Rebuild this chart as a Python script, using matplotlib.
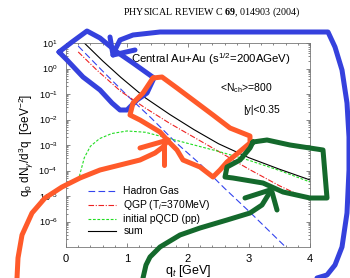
import numpy as np
import matplotlib
matplotlib.use('Agg')
import matplotlib.pyplot as plt
from matplotlib.lines import Line2D
from matplotlib.ticker import MultipleLocator, LogLocator, NullFormatter

plt.rcParams['font.family'] = ['Liberation Sans', 'DejaVu Sans']
plt.rcParams['mathtext.fontset'] = 'custom'
plt.rcParams['mathtext.rm'] = 'Liberation Sans'
plt.rcParams['mathtext.it'] = 'Liberation Sans:italic'
plt.rcParams['mathtext.bf'] = 'Liberation Serif:bold'

# curves (q_t in GeV, log10 of yield)
hadron_q = [0.2, 0.6, 1.0, 1.4, 1.8, 2.2, 2.6, 3.0, 3.6]
hadron_log = [0.88, -0.1, -1.05, -1.95, -2.9, -3.75, -4.7, -5.6, -7.0]

qgp_q = [0.2, 0.5, 0.9, 1.3, 1.7, 2.1, 2.5, 3.0, 3.5, 4.0]
qgp_log = [0.65, -0.05, -0.9, -1.55, -2.15, -2.7, -3.25, -3.95, -4.6, -5.16]

pqcd_q = [0.2, 0.3, 0.4, 0.55, 0.75, 1.0, 1.3, 1.7, 2.1, 2.5, 3.0, 3.5, 4.0]
pqcd_log = [-4.4, -3.5, -3.05, -2.75, -2.55, -2.45, -2.5, -2.75, -3.0, -3.25, -3.6, -4.0, -4.45]

sum_q = [0.3, 0.6, 0.9, 1.3, 1.7, 2.1, 2.5, 3.0, 3.5, 4.0]
sum_log = [1.0, 0.3, -0.35, -1.15, -1.8, -2.4, -2.95, -3.5, -3.95, -4.37]

labels = ['Hadron Gas', r'QGP (T$_i$=370MeV)', 'initial pQCD (pp)', 'sum']

# hand drawn marker strokes, in image pixels (x right, y down)
blue_box = [(59, 52), (72, 42), (87, 31), (100, 38), (117, 52), (133, 63), (147, 73), (154, 78),
            (147, 93), (137, 100), (127, 110), (120, 110), (112, 103), (100, 90), (83, 77),
            (67, 60), (59, 52)]
blue_arrow = [(113, 55), (115, 50), (120, 40), (133, 35), (160, 32), (233, 32), (328, 32),
              (335, 47), (342, 70), (347, 103), (349, 137), (349, 170), (347, 213), (342, 247),
              (335, 265), (327, 275), (317, 278)]
blue_barbs = [[(110, 37), (113, 55), (135, 50)]]
red_box = [(153, 78), (162, 77), (177, 88), (193, 100), (213, 115), (230, 128), (250, 136),
           (250, 143), (238, 153), (227, 162), (220, 170), (213, 177), (200, 167), (183, 160),
           (177, 150), (170, 143), (160, 132), (140, 120), (130, 115), (133, 103), (143, 93),
           (153, 78)]
red_arrow = [(17, 278), (18, 258), (22, 235), (32, 213), (45, 198), (62, 187), (80, 178),
             (100, 170), (120, 165), (140, 160), (155, 153), (163, 147), (168, 140)]
red_barbs = [[(140, 148), (168, 140)], [(164, 142), (164, 165)]]
green_box = [(253, 142), (267, 140), (290, 145), (323, 150), (327, 198), (310, 198),
             (283, 192), (263, 183), (233, 178), (225, 177), (227, 167), (240, 160),
             (250, 148), (253, 142)]
green_arrow = [(143, 278), (146, 265), (150, 257), (160, 247), (180, 235), (200, 228),
               (227, 220), (250, 213), (262, 205), (270, 192)]
green_barbs = [[(245, 198), (270, 190)], [(272, 192), (277, 210)]]

W, H = 350, 278
fig = plt.figure(figsize=(3.5, 2.78), dpi=100)
ax = fig.add_axes([66 / W, 1 - 247 / H, 244 / W, 204 / H])

ax.plot(hadron_q, 10 ** np.array(hadron_log), color='#3344ee', lw=0.8, ls=(0, (6, 3)), label=labels[0])
ax.plot(qgp_q, 10 ** np.array(qgp_log), color='#ee2222', lw=0.8, ls=(0, (5, 1.5, 1, 1.5)), label=labels[1])
ax.plot(pqcd_q, 10 ** np.array(pqcd_log), color='#22dd22', lw=0.8, ls=(0, (2.5, 1.5)), label=labels[2])
ax.plot(sum_q, 10 ** np.array(sum_log), color='black', lw=0.8, label=labels[3])

ax.set_yscale('log')
ax.set_xlim(0, 4)
ax.set_ylim(1e-7, 1e1)
ax.set_xticks([0, 1, 2, 3, 4])
ax.xaxis.set_minor_locator(MultipleLocator(0.2))
ax.set_yticks([10.0 ** k for k in range(-6, 2)])
ax.set_yticklabels([r'10$^{%d}$' % k for k in range(-6, 2)])
ax.yaxis.set_minor_locator(LogLocator(base=10, subs=np.arange(2, 10)))
ax.yaxis.set_minor_formatter(NullFormatter())
ax.tick_params(which='both', direction='in', top=True, right=True, width=0.5, colors='#555555')
ax.tick_params(which='major', length=3)
ax.tick_params(which='minor', length=1.5)
ax.tick_params(axis='y', labelsize=6.5, labelcolor='black', pad=6)
ax.tick_params(axis='x', labelsize=8, labelcolor='black', pad=5)
for s in ax.spines.values():
    s.set_linewidth(0.6)
    s.set_color('#777777')

ax.set_xlabel(r'q$_t$ [GeV]', fontsize=9, labelpad=-1)
ax.set_ylabel(r'q$_0$ dN$_\gamma$/d$^3$q  [GeV$^{-2}$]', fontsize=8.5, labelpad=2)

ax.text(0.265, 0.9, r'Central Au+Au (s$^{1/2}$=200AGeV)', transform=ax.transAxes, fontsize=8.2)
ax.text(0.63, 0.765, r'<N$_{\rm ch}$>=800', transform=ax.transAxes, fontsize=7.5)
ax.text(0.725, 0.655, '|y|<0.35', transform=ax.transAxes, fontsize=7.5)

ax.legend(loc='center left', bbox_to_anchor=(0.09, 0.175), frameon=False, fontsize=7.5,
          handlelength=2.7, handletextpad=0.7, labelspacing=0.2, borderpad=0, borderaxespad=0)

fig.text(0.605, 1 - 12 / H, r'PHYSICAL REVIEW C $\mathbf{69}$, 014903 (2004)', ha='center', va='center',
         fontsize=7.2, family='Liberation Serif')


def stroke(pts, color):
    xs = [p[0] / W for p in pts]
    ys = [1 - p[1] / H for p in pts]
    fig.add_artist(Line2D(xs, ys, transform=fig.transFigure, color=color, lw=3.6,
                          solid_capstyle='round', solid_joinstyle='round', zorder=10))


for path in [blue_box, blue_arrow] + blue_barbs:
    stroke(path, '#3541dd')
for path in [red_box, red_arrow] + red_barbs:
    stroke(path, '#ff5a2a')
for path in [green_box, green_arrow] + green_barbs:
    stroke(path, '#14692c')

fig.savefig('out.png', dpi=100)
